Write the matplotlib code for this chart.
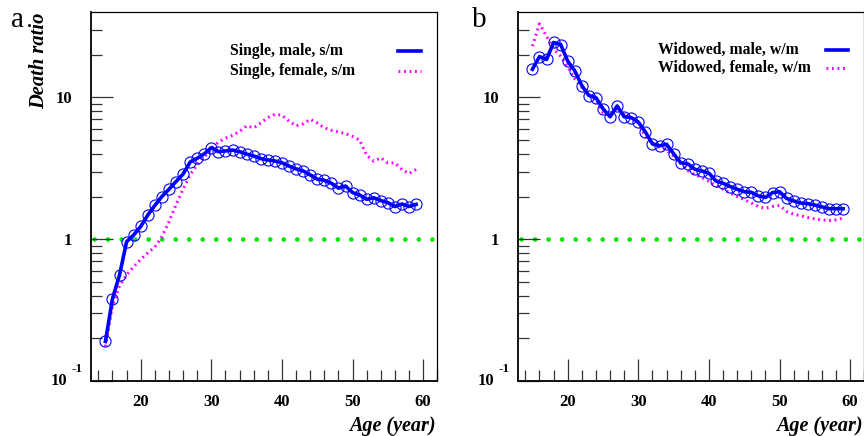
import numpy as np
import matplotlib
matplotlib.use("Agg")
import matplotlib.pyplot as plt
from matplotlib.lines import Line2D
from matplotlib.ticker import FixedLocator, NullFormatter, FixedFormatter

# ---- data: death ratio by age ----
ages = list(range(15, 60))

single_male = [0.19, 0.38, 0.56, 0.96, 1.07, 1.23, 1.48, 1.73, 2.0, 2.25,
               2.55, 2.88, 3.5, 3.72, 4.0, 4.42, 4.14, 4.19, 4.25, 4.14,
               3.98, 3.86, 3.7, 3.62, 3.56, 3.46, 3.28, 3.13, 3.03, 2.84,
               2.65, 2.6, 2.48, 2.29, 2.37, 2.13, 2.05, 1.91, 1.96, 1.87,
               1.81, 1.70, 1.77, 1.70, 1.76]
single_female = [0.175, 0.34, 0.47, 0.56, 0.64, 0.72, 0.80, 0.88, 1.04, 1.33,
                 1.75, 2.25, 2.85, 3.35, 3.8, 4.3, 4.85, 5.15, 5.4, 5.75,
                 6.3, 6.1, 6.6, 7.2, 7.6, 7.5, 6.8, 6.3, 6.5, 7.0,
                 6.6, 6.1, 5.85, 5.7, 5.55, 5.3, 5.0, 3.9, 3.55, 3.75,
                 3.45, 3.45, 3.1, 2.9, 3.1]
widowed_male = [15.8, 19.4, 18.5, 24.4, 23.6, 18.0, 15.4, 12.1, 10.3, 9.95,
                8.3, 7.3, 8.7, 7.3, 7.2, 6.7, 5.7, 4.7, 4.56, 4.67,
                4.0, 3.46, 3.4, 3.11, 3.03, 2.92, 2.57, 2.48, 2.35, 2.25,
                2.16, 2.14, 2.02, 1.97, 2.13, 2.16, 1.94, 1.86, 1.80, 1.78,
                1.74, 1.69, 1.64, 1.64, 1.64]
widowed_female = [23.0, 33.0, 27.0, 22.0, 19.5, 16.5, 13.5, 11.8, 10.5, 9.6,
                  7.8, 7.5, 8.4, 7.6, 7.3, 6.6, 5.3, 4.7, 4.45, 4.25,
                  3.85, 3.4, 3.05, 2.85, 2.72, 2.55, 2.38, 2.25, 2.12, 2.0,
                  1.9, 1.8, 1.7, 1.65, 1.7, 1.73, 1.57, 1.5, 1.46, 1.42,
                  1.39, 1.37, 1.35, 1.37, 1.41]

panels = [
    ("a", "Single, male, s/m", "Single, female, s/m", single_male, single_female),
    ("b", "Widowed, male, w/m", "Widowed, female, w/m", widowed_male, widowed_female),
]

x_major = [20, 30, 40, 50, 60]
x_minor = [14, 16, 18, 22, 24, 26, 28, 32, 34, 36, 38, 42, 44, 46, 48,
           52, 54, 56, 58, 62]
y_major = [0.1, 1, 10]
y_major_labels = ["", "1", "10"]
y_minor = [0.2, 0.3, 0.4, 0.5, 0.6, 0.7, 0.8, 0.9,
           2, 3, 4, 5, 6, 7, 8, 9, 20, 30]

SERIF = "Liberation Serif"
BLUE = "#0000ff"
MAGENTA = "#ff00ff"
GREEN = "#00e600"
DOTS = (0, (0.6, 1.2))

W, H = 864, 436
fig = plt.figure(figsize=(W / 100, H / 100), dpi=100)

ax_w = 346 / W
ax_h = 368.7 / H
ax_b = (H - 381) / H
lefts = [91.3 / W, 518.3 / W]
panel_lbl_x = [11 / W, 472 / W]

for (tag, lab_m, lab_f, male, female), left, plx in zip(panels, lefts, panel_lbl_x):
    ax = fig.add_axes([left, ax_b, ax_w, ax_h])
    ax.set_yscale("log")
    ax.set_xlim(13, 62)
    ax.set_ylim(0.1, 10 ** 1.6)

    # reference level at ratio 1
    ax.axhline(1.0, color=GREEN, lw=3.4, linestyle=(2.2, (0.001, 2.86)),
               dash_capstyle="round", zorder=1)

    ax.plot(ages, female, color=MAGENTA, lw=2.2, linestyle=DOTS, zorder=2)
    ax.plot(ages, male, color=BLUE, lw=2.6, marker="o", markersize=8,
            markerfacecolor="none", markeredgecolor=BLUE, markeredgewidth=0.8,
            zorder=3)

    # axes frame and ticks
    for sp in ax.spines.values():
        sp.set_linewidth(0.9)
    ax.spines["left"].set_linewidth(1.3)
    ax.spines["bottom"].set_linewidth(1.3)
    ax.xaxis.set_major_locator(FixedLocator(x_major))
    ax.xaxis.set_minor_locator(FixedLocator(x_minor))
    ax.xaxis.set_major_formatter(FixedFormatter([str(v) for v in x_major]))
    ax.xaxis.set_minor_formatter(NullFormatter())
    ax.yaxis.set_major_locator(FixedLocator(y_major))
    ax.yaxis.set_major_formatter(FixedFormatter(y_major_labels))
    ax.yaxis.set_minor_locator(FixedLocator(y_minor))
    ax.yaxis.set_minor_formatter(NullFormatter())
    ax.tick_params(which="both", direction="in", top=False, right=False,
                   color="#333333", width=0.9)
    ax.tick_params(which="major", length=16)
    ax.tick_params(which="minor", length=8)
    ax.tick_params(axis="x", which="major", pad=9)
    ax.tick_params(axis="y", which="major", pad=14)
    for t in ax.get_xticklabels() + ax.get_yticklabels():
        t.set_fontfamily(SERIF)
        t.set_fontweight("bold")
        t.set_fontsize(12)

    # bottom decade label 10^-1
    ax.text(-0.069, 0.1, "10", transform=ax.get_yaxis_transform(),
            ha="right", va="center", fontsize=12, fontweight="bold",
            family=SERIF)
    ax.text(-0.024, 0.1 * 10 ** (12 / 142), "-1", transform=ax.get_yaxis_transform(),
            ha="right", va="center", fontsize=9.5, fontweight="bold",
            family=SERIF)

    # axis titles
    ax.text(0.994, -0.121, "Age (year)", transform=ax.transAxes, ha="right",
            va="center", fontsize=14.5, fontweight="bold", fontstyle="italic",
            family=SERIF)
    if tag == "a":
        ax.text(-0.151, 1.0, "Death ratio", transform=ax.transAxes, ha="center",
                va="top", rotation=90, fontsize=14.8, fontweight="bold",
                fontstyle="italic", family=SERIF)

    # legend
    if tag == "a":
        tx, ym, yf, s0, s1 = 0.401, 0.895, 0.841, 0.886, 0.953
    else:
        tx, ym, yf, s0, s1 = 0.405, 0.898, 0.848, 0.888, 0.954
    ax.text(tx, ym, lab_m, transform=ax.transAxes, ha="left", va="center",
            fontsize=11.3, fontweight="bold", family=SERIF)
    ax.text(tx, yf, lab_f, transform=ax.transAxes, ha="left", va="center",
            fontsize=11.3, fontweight="bold", family=SERIF)
    ax.add_line(Line2D([s0, s1], [ym, ym], transform=ax.transAxes,
                       color=BLUE, lw=2.6))
    ax.add_line(Line2D([s0, s1], [yf, yf], transform=ax.transAxes,
                       color=MAGENTA, lw=2.2, linestyle=DOTS))

    fig.text(plx, (H - 27) / H, tag, ha="left", va="baseline", fontsize=21,
             family=SERIF)

fig.savefig("out.png", dpi=100)
